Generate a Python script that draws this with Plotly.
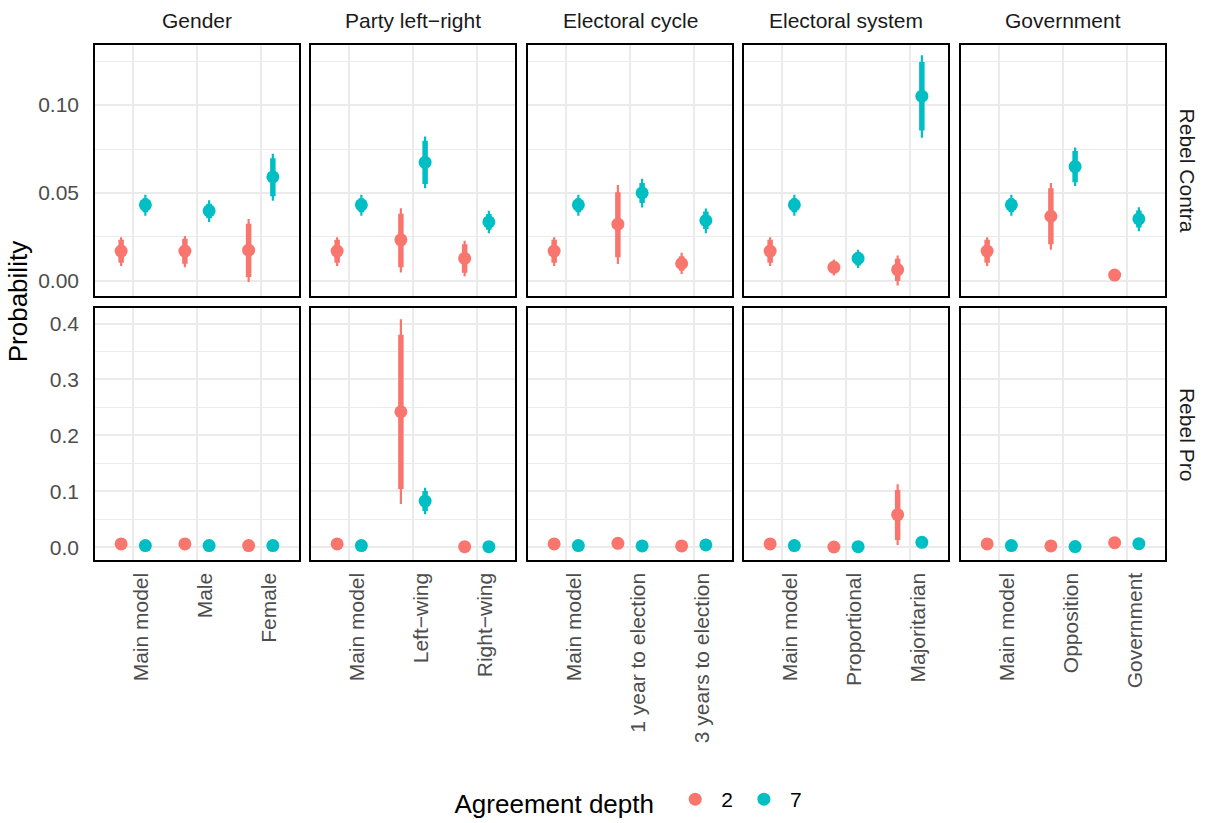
import plotly.graph_objects as go

# ---------------- data ----------------
facets = ["Gender", "Party left\u2212right", "Electoral cycle", "Electoral system", "Government"]
categories = [
    ["Main model", "Male", "Female"],
    ["Main model", "Left\u2212wing", "Right\u2212wing"],
    ["Main model", "1 year to election", "3 years to election"],
    ["Main model", "Proportional", "Majoritarian"],
    ["Main model", "Opposition", "Government"],
]
outcomes = ["Rebel Contra", "Rebel Pro"]
depths = ["2", "7"]

# Rebel Contra, depth 2 (15 values = 5 facets x 3 categories)
contra2_est = [0.0169, 0.0169, 0.0174, 0.0169, 0.0233, 0.0127, 0.0169, 0.0322, 0.0098, 0.0169, 0.0076, 0.0063, 0.0169, 0.0367, 0.0032]
contra2_lo95 = [0.0084, 0.0076, -0.0008, 0.0084, 0.0047, 0.0025, 0.0084, 0.0095, 0.0038, 0.0084, 0.0030, -0.0027, 0.0084, 0.0176, 0.0015]
contra2_hi95 = [0.0248, 0.0254, 0.0352, 0.0248, 0.0413, 0.0227, 0.0248, 0.0545, 0.0159, 0.0248, 0.0121, 0.0144, 0.0248, 0.0557, 0.0049]
contra2_lo66 = [0.0102, 0.0097, 0.0021, 0.0102, 0.0076, 0.0045, 0.0102, 0.0133, 0.0057, 0.0102, 0.0045, -0.0002, 0.0102, 0.0208, 0.0020]
contra2_hi66 = [0.0233, 0.0239, 0.0324, 0.0233, 0.0381, 0.0208, 0.0233, 0.0504, 0.0140, 0.0233, 0.0106, 0.0125, 0.0233, 0.0527, 0.0045]

# Rebel Contra, depth 7
contra7_est = [0.0432, 0.0398, 0.0591, 0.0432, 0.0674, 0.0335, 0.0432, 0.0500, 0.0343, 0.0432, 0.0127, 0.1051, 0.0432, 0.0650, 0.0352]
contra7_lo95 = [0.0370, 0.0335, 0.0455, 0.0370, 0.0527, 0.0271, 0.0370, 0.0417, 0.0271, 0.0370, 0.0072, 0.0814, 0.0370, 0.0540, 0.0282]
contra7_hi95 = [0.0490, 0.0458, 0.0723, 0.0490, 0.0822, 0.0398, 0.0490, 0.0580, 0.0411, 0.0490, 0.0176, 0.1284, 0.0490, 0.0758, 0.0419]
contra7_lo66 = [0.0390, 0.0356, 0.0481, 0.0390, 0.0551, 0.0290, 0.0390, 0.0443, 0.0294, 0.0390, 0.0087, 0.0856, 0.0390, 0.0561, 0.0303]
contra7_hi66 = [0.0470, 0.0439, 0.0697, 0.0470, 0.0797, 0.0380, 0.0470, 0.0557, 0.0394, 0.0470, 0.0163, 0.1246, 0.0470, 0.0739, 0.0400]

# Rebel Pro, depth 2
pro2_est = [0.0060, 0.0060, 0.0030, 0.0060, 0.2423, 0.0010, 0.0060, 0.0071, 0.0024, 0.0060, 0.0005, 0.0583, 0.0060, 0.0024, 0.0083]
pro2_lo95 = [0.0030, 0.0030, 0.0010, 0.0030, 0.0774, 0.0000, 0.0030, 0.0040, 0.0010, 0.0030, 0.0000, 0.0042, 0.0030, 0.0010, 0.0050]
pro2_hi95 = [0.0090, 0.0090, 0.0050, 0.0090, 0.4077, 0.0020, 0.0090, 0.0100, 0.0040, 0.0090, 0.0010, 0.1125, 0.0090, 0.0040, 0.0115]
pro2_lo66 = [0.0040, 0.0040, 0.0020, 0.0040, 0.1040, 0.0005, 0.0040, 0.0050, 0.0015, 0.0040, 0.0002, 0.0130, 0.0040, 0.0015, 0.0060]
pro2_hi66 = [0.0080, 0.0080, 0.0040, 0.0080, 0.3800, 0.0015, 0.0080, 0.0090, 0.0033, 0.0080, 0.0008, 0.1024, 0.0080, 0.0033, 0.0105]

# Rebel Pro, depth 7
pro7_est = [0.0030, 0.0030, 0.0030, 0.0030, 0.0827, 0.0010, 0.0030, 0.0024, 0.0042, 0.0030, 0.0010, 0.0089, 0.0030, 0.0012, 0.0065]
pro7_lo95 = [0.0015, 0.0015, 0.0015, 0.0015, 0.0589, 0.0003, 0.0015, 0.0010, 0.0020, 0.0015, 0.0003, 0.0050, 0.0015, 0.0004, 0.0040]
pro7_hi95 = [0.0045, 0.0045, 0.0045, 0.0045, 0.1065, 0.0020, 0.0045, 0.0040, 0.0065, 0.0045, 0.0020, 0.0130, 0.0045, 0.0022, 0.0090]
pro7_lo66 = [0.0020, 0.0020, 0.0020, 0.0020, 0.0649, 0.0005, 0.0020, 0.0015, 0.0030, 0.0020, 0.0005, 0.0065, 0.0020, 0.0007, 0.0050]
pro7_hi66 = [0.0040, 0.0040, 0.0040, 0.0040, 0.1006, 0.0015, 0.0040, 0.0033, 0.0055, 0.0040, 0.0015, 0.0115, 0.0040, 0.0018, 0.0080]

series = {
    ("Rebel Contra", "2"): (contra2_est, contra2_lo95, contra2_hi95, contra2_lo66, contra2_hi66),
    ("Rebel Contra", "7"): (contra7_est, contra7_lo95, contra7_hi95, contra7_lo66, contra7_hi66),
    ("Rebel Pro", "2"): (pro2_est, pro2_lo95, pro2_hi95, pro2_lo66, pro2_hi66),
    ("Rebel Pro", "7"): (pro7_est, pro7_lo95, pro7_hi95, pro7_lo66, pro7_hi66),
}

# ---------------- style / layout ----------------
W, H = 1208, 823
colors = {"2": "#F8766D", "7": "#00BFC4"}
dodge = {"2": -0.19, "7": 0.19}
col_left = [95, 311, 528, 744, 961]
col_w = 204
row_top = [45, 309]
row_h = 252
y_ranges = [[-0.00886, 0.1343], [-0.0221, 0.4274]]
y_dtick = [0.05, 0.1]
y_fmt = [".2f", ".1f"]
FONT = "Liberation Sans, Arial, sans-serif"
GRID = "#EBEBEB"
TICK_SIZE = 21
STRIP_SIZE = 21
TITLE_SIZE = 26

fig = go.Figure()
layout = {}

for r, outcome in enumerate(outcomes):
    for c in range(5):
        idx = r * 5 + c + 1
        xa = "x" if idx == 1 else f"x{idx}"
        ya = "y" if idx == 1 else f"y{idx}"
        for d in depths:
            est, lo95, hi95, lo66, hi66 = series[(outcome, d)]
            sl = slice(c * 3, c * 3 + 3)
            e, l95, h95, l66, h66 = est[sl], lo95[sl], hi95[sl], lo66[sl], hi66[sl]
            xs = [k + 1 + dodge[d] for k in range(3)]
            show = (r == 0 and c == 0)
            # thin (outer) interval
            fig.add_trace(go.Scatter(
                x=xs, y=e, xaxis=xa, yaxis=ya, mode="markers",
                marker=dict(size=1, color=colors[d], opacity=0),
                error_y=dict(type="data", symmetric=False,
                             array=[h - v for h, v in zip(h95, e)],
                             arrayminus=[v - lo for v, lo in zip(e, l95)],
                             color=colors[d], thickness=2.2, width=0),
                showlegend=False, hoverinfo="skip"))
            # thick (inner) interval + point
            fig.add_trace(go.Scatter(
                x=xs, y=e, xaxis=xa, yaxis=ya, mode="markers",
                marker=dict(size=13, color=colors[d], line=dict(width=0)),
                error_y=dict(type="data", symmetric=False,
                             array=[h - v for h, v in zip(h66, e)],
                             arrayminus=[v - lo for v, lo in zip(e, l66)],
                             color=colors[d], thickness=5.5, width=0),
                name=d, legendgroup=d, showlegend=show))
        x0 = col_left[c] / W
        x1 = (col_left[c] + col_w) / W
        y1 = 1 - row_top[r] / H
        y0 = 1 - (row_top[r] + row_h) / H
        layout["xaxis" if idx == 1 else f"xaxis{idx}"] = dict(
            domain=[x0, x1], anchor=ya, range=[0.4, 3.6],
            tickmode="array", tickvals=[1, 2, 3], ticktext=categories[c],
            showticklabels=(r == 1), tickangle=-90,
            tickfont=dict(family=FONT, size=TICK_SIZE, color="#4D4D4D"),
            showgrid=True, gridcolor=GRID, gridwidth=1.8, zeroline=False,
            showline=True, mirror=True, linecolor="black", linewidth=1.5,
            ticks="", ticklabelstandoff=3, ticklabelshift=8,
            automargin=False, fixedrange=True)
        layout["yaxis" if idx == 1 else f"yaxis{idx}"] = dict(
            domain=[y0, y1], anchor=xa, range=y_ranges[r],
            tick0=0, dtick=y_dtick[r], tickformat=y_fmt[r],
            showticklabels=(c == 0),
            tickfont=dict(family=FONT, size=TICK_SIZE, color="#4D4D4D"),
            showgrid=True, gridcolor=GRID, gridwidth=1.8, zeroline=False,
            minor=dict(dtick=y_dtick[r] / 2, tick0=0, showgrid=True, gridcolor=GRID, gridwidth=0.9, ticks=""),
            showline=True, mirror=True, linecolor="black", linewidth=1.5,
            ticks="", ticklabelstandoff=10, automargin=False, fixedrange=True)

annotations = []
for c, f in enumerate(facets):
    annotations.append(dict(text=f, x=(col_left[c] + col_w / 2) / W, y=1 - 21 / H,
                            xref="paper", yref="paper", showarrow=False,
                            font=dict(family=FONT, size=STRIP_SIZE, color="#1A1A1A"),
                            xanchor="center", yanchor="middle"))
for r, o in enumerate(outcomes):
    annotations.append(dict(text=o, x=1187 / W, y=1 - (row_top[r] + row_h / 2) / H,
                            xref="paper", yref="paper", showarrow=False, textangle=90,
                            font=dict(family=FONT, size=STRIP_SIZE, color="#1A1A1A"),
                            xanchor="center", yanchor="middle"))
annotations.append(dict(text="Probability", x=18 / W, y=1 - 303 / H,
                        xref="paper", yref="paper", showarrow=False, textangle=-90,
                        font=dict(family=FONT, size=TITLE_SIZE, color="black"),
                        xanchor="center", yanchor="middle"))

fig.update_layout(
    width=W, height=H,
    margin=dict(l=0, r=0, t=0, b=0),
    paper_bgcolor="white", plot_bgcolor="white",
    template="none",
    annotations=annotations,
    legend=dict(orientation="h", x=630 / W, xanchor="center", y=1 - 803 / H, yanchor="middle",
                title=dict(text="Agreement depth ", font=dict(family=FONT, size=TITLE_SIZE, color="black"), side="left"),
                font=dict(family=FONT, size=TICK_SIZE, color="black"),
                itemwidth=42, bgcolor="rgba(0,0,0,0)"),
    **layout,
)

fig.write_html("out.html", config={"displayModeBar": False},
               post_script="document.body.style.margin='0';")
